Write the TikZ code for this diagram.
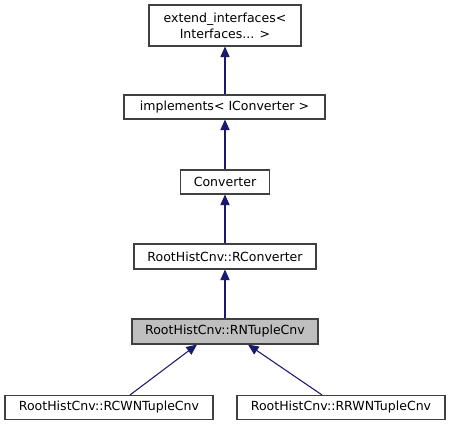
\documentclass[tikz,border=0pt]{standalone}
\usepackage{fontspec}
\setmainfont{DejaVu Sans}
\usetikzlibrary{arrows.meta,calc}
\definecolor{edgeblue}{HTML}{191970}
\definecolor{boxborder}{HTML}{404040}
\definecolor{hlfill}{HTML}{BFBFBF}
\begin{document}
\begin{tikzpicture}[x=0.75pt,y=-0.75pt,
  cls/.style={draw=boxborder,line width=0.8pt,fill=white,rectangle,inner sep=0pt,
    font=\fontsize{9.4}{12}\selectfont,align=center},
  edge/.style={draw=edgeblue,line width=0.8pt,-{Triangle[length=8pt,width=7pt]}}]
\useasboundingbox (0,0) rectangle (451,425);
\node[cls,minimum width=152*0.75pt,minimum height=41*0.75pt] (n1) at (225,25.5) {extend\_interfaces<\\Interfaces... >};
\node[cls,minimum width=201*0.75pt,minimum height=24*0.75pt] (n2) at (224.5,107) {implements< IConverter >};
\node[cls,minimum width=89*0.75pt,minimum height=24*0.75pt] (n3) at (225,182) {Converter};
\node[cls,minimum width=182*0.75pt,minimum height=25*0.75pt] (n4) at (225,256.5) {RootHistCnv::RConverter};
\node[cls,fill=hlfill,minimum width=186*0.75pt,minimum height=25*0.75pt] (n5) at (225,331.5) {RootHistCnv::RNTupleCnv};
\node[cls,minimum width=208*0.75pt,minimum height=24*0.75pt] (n6) at (109,407.5) {RootHistCnv::RCWNTupleCnv};
\node[cls,minimum width=208*0.75pt,minimum height=24*0.75pt] (n7) at (341,407.5) {RootHistCnv::RRWNTupleCnv};
\draw[edge] (n1.south |- n2.north) -- (n1.south);
\draw[edge] (n1.south |- n3.north) -- (n1.south |- n2.south);
\draw[edge] (n1.south |- n4.north) -- (n1.south |- n3.south);
\draw[edge] (n1.south |- n5.north) -- (n1.south |- n4.south);
\draw[edge] ($(n6.north)+(21,0)$) -- ($(n5.south)+(-28,0)$);
\draw[edge] ($(n7.north)+(-19,0)$) -- ($(n5.south)+(23,0)$);
\end{tikzpicture}
\end{document}
